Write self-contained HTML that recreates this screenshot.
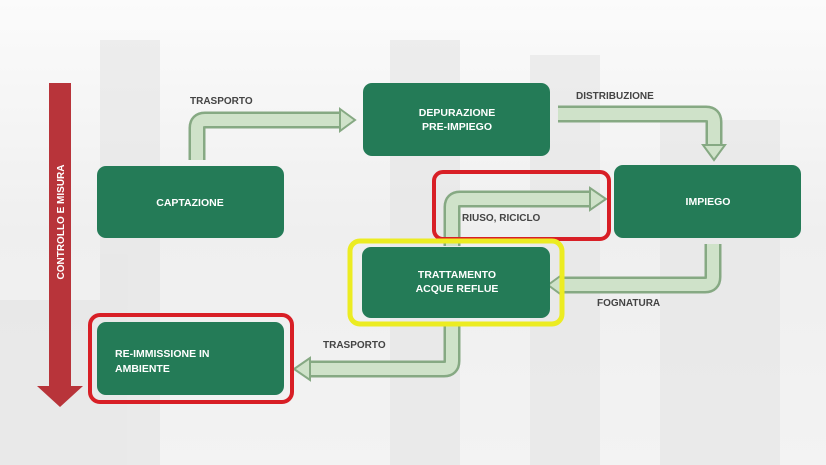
<!DOCTYPE html>
<html><head><meta charset="utf-8"><style>
html,body{margin:0;padding:0;width:826px;height:465px;overflow:hidden;background:#eeeeee;}
svg{display:block}
text{font-family:"Liberation Sans",sans-serif;font-weight:bold;}
</style></head><body>
<svg width="826" height="465" viewBox="0 0 826 465">
<defs>
<linearGradient id="bg" x1="0" y1="0" x2="0" y2="1">
<stop offset="0" stop-color="#fbfbfb"/><stop offset="0.5" stop-color="#efefef"/><stop offset="1" stop-color="#f3f3f3"/>
</linearGradient>
</defs>
<rect width="826" height="465" fill="url(#bg)"/>
<g fill="#e4e4e4" opacity="0.6">
<rect x="100" y="40" width="60" height="425"/>
<rect x="390" y="40" width="70" height="425"/>
<rect x="530" y="55" width="70" height="410"/>
<rect x="660" y="120" width="120" height="345"/>
<rect x="0" y="300" width="100" height="165"/>
</g>
<rect x="49" y="83" width="22" height="305" fill="#b8343a"/>
<polygon points="37,386 83,386 60,407" fill="#b8343a"/>
<text x="0" y="0" transform="translate(64,222) rotate(-90)" font-size="10" fill="#fff" text-anchor="middle">CONTROLLO E MISURA</text>

<g fill="none" stroke-linejoin="round">
<g stroke="#86a983" stroke-width="17">
<path d="M197 160 V128 Q197 120 205 120 H342"/>
<path d="M558 114 H706 Q714 114 714 122 V146"/>
<path d="M713 244 V277 Q713 285 705 285 H562"/>
<path d="M452 246 V207 Q452 199 460 199 H592"/>
<path d="M452 325 V361 Q452 369 444 369 H308"/>
</g>
<g stroke="#cfe2c9" stroke-width="12">
<path d="M197 160 V128 Q197 120 205 120 H342"/>
<path d="M558 114 H706 Q714 114 714 122 V146"/>
<path d="M713 244 V277 Q713 285 705 285 H562"/>
<path d="M452 246 V207 Q452 199 460 199 H592"/>
<path d="M452 325 V361 Q452 369 444 369 H308"/>
</g>
</g>
<g fill="#cfe2c9" stroke="#86a983" stroke-width="2">
<polygon points="340,109 355,120 340,131"/>
<polygon points="703,145 725,145 714,160"/>
<polygon points="563,274 548,285 563,296"/>
<polygon points="590,188 606,199 590,210"/>
<polygon points="310,358 294,369 310,380"/>
</g>

<rect x="434" y="172" width="175" height="67" rx="9" fill="none" stroke="#d81f26" stroke-width="4"/>
<rect x="350" y="241" width="212" height="83" rx="10" fill="none" stroke="#ecec22" stroke-width="5"/>
<rect x="90" y="315" width="202" height="87" rx="10" fill="none" stroke="#d81f26" stroke-width="4"/>

<g fill="#247b57">
<rect x="97" y="166" width="187" height="72" rx="9"/>
<rect x="363" y="83" width="187" height="73" rx="9"/>
<rect x="614" y="165" width="187" height="73" rx="9"/>
<rect x="362" y="247" width="188" height="71" rx="9"/>
<rect x="97" y="322" width="187" height="73" rx="9"/>
</g>
<g fill="#ffffff" font-size="10.5" text-anchor="middle">
<text x="190" y="206">CAPTAZIONE</text>
<text x="457" y="116">DEPURAZIONE</text>
<text x="457" y="130">PRE-IMPIEGO</text>
<text x="708" y="205">IMPIEGO</text>
<text x="457" y="278">TRATTAMENTO</text>
<text x="457" y="292">ACQUE REFLUE</text>
</g>
<g fill="#ffffff" font-size="10.5">
<text x="115" y="357">RE-IMMISSIONE IN</text>
<text x="115" y="372">AMBIENTE</text>
</g>
<g fill="#444" font-size="10">
<text x="190" y="104">TRASPORTO</text>
<text x="576" y="99">DISTRIBUZIONE</text>
<text x="462" y="221">RIUSO, RICICLO</text>
<text x="597" y="306">FOGNATURA</text>
<text x="323" y="348">TRASPORTO</text>
</g>
</svg>
</body></html>
